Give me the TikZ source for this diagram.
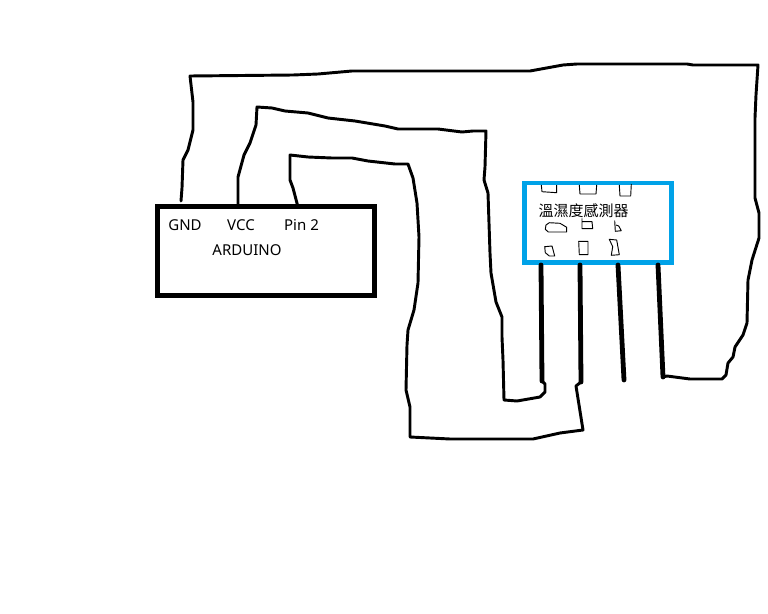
\documentclass[tikz,border=0pt]{standalone}
\usepackage{fontspec}
\setmainfont{Noto Sans}
\newfontfamily\cjkfont{Noto Sans CJK TC}
\definecolor{paintblue}{HTML}{00A2E8}
\tikzset{
  board/.style={draw=black,line width=3.6pt,fill=white,inner sep=0pt,minimum width=162.5pt,minimum height=66.4pt},
  sensorbox/.style={draw=paintblue,line width=3.5pt,fill=white,inner sep=0pt,minimum width=110.5pt,minimum height=59.5pt},
  label/.style={inner sep=0pt,font=\fontsize{11.25pt}{13pt}\selectfont,text=black},
  wire/.style={draw=black,line width=2.2pt,line join=round,line cap=round},
  pinline/.style={draw=black,line width=3.6pt,line cap=round},
  scribble/.style={draw=black,line width=0.7pt,line join=round}
}
\begin{document}
\begin{tikzpicture}[x=0.75pt,y=-0.75pt]
\useasboundingbox[fill=white] (0,0) rectangle (768,614);

\node[board] (arduino) at (266,251) {};
\node[sensorbox] (sensor) at (598,222.8) {};

\node[label] (gnd) at (185,225) {GND};
\node[label] (vcc) at (241,225) {VCC};
\node[label] (pintwo) at (301.5,225) {Pin 2};
\node[label] (board name) at (247,250) {ARDUINO};
\node[label,font=\fontsize{11.25pt}{13pt}\cjkfont] (sensor name) at (583.5,211) {溫濕度感測器};

\coordinate (gnd top) at (181,201);
\coordinate (vcc top) at (238,207);
\coordinate (pin top) at (298,207);
\coordinate (s1 top) at (541,265);
\coordinate (s2 top) at (580,265);
\coordinate (s3 top) at (618,265);
\coordinate (s4 top) at (658,265);
\coordinate (s1 end) at (542,381);
\coordinate (s2 end) at (581,382);
\coordinate (s3 end) at (624,380);
\coordinate (s4 end) at (663,377);

\draw[pinline] (s1 top) -- (s1 end);
\draw[pinline] (s2 top) -- (s2 end);
\draw[pinline] (s3 top) -- (s3 end);
\draw[pinline] (s4 top) -- (s4 end);

% GND wire
\draw[wire] (gnd top) -- (182,188) -- (183,160) -- (188,150) -- (193,130) -- (193,102) -- (190,76)
  -- (293,75) -- (318,74) -- (352,71) -- (530,71) -- (563,65) -- (577,64) -- (687,64) -- (693,65) -- (758,65)
  -- (756,95) -- (755,118) -- (755,198) -- (759,213) -- (759,238) -- (752,260) -- (748,280) -- (747,323)
  -- (743,335) -- (735,347) -- (733,357) -- (728,363) -- (726,375) -- (722,379) -- (690,379) -- (667,376) -- (s4 end);
% VCC wire
\draw[wire] (vcc top) -- (238,177) -- (244,155) -- (250,143) -- (256,125) -- (257,107)
  -- (272,108) -- (285,111) -- (308,113) -- (328,118) -- (355,121) -- (385,126) -- (398,129)
  -- (438,129) -- (462,132) -- (473,131) -- (486,131) -- (485,167) -- (484,180) -- (488,193)
  -- (490,253) -- (491,273) -- (496,302) -- (502,317) -- (502,337) -- (503,360) -- (504,400)
  -- (517,401) -- (540,397) -- (545,392) -- (545,384) -- (s1 end);
% Pin 2 wire
\draw[wire] (pin top) -- (293,188) -- (290,180) -- (290,155) -- (308,157) -- (332,158) -- (352,158)
  -- (368,161) -- (395,164) -- (408,164) -- (413,178) -- (417,203) -- (419,237) -- (418,283)
  -- (414,310) -- (408,330) -- (407,345) -- (406,390) -- (410,407) -- (410,437)
  -- (450,439) -- (533,439) -- (560,433) -- (583,430) -- (576,386) -- (s2 end);

% marks inside the sensor
\draw[scribble] (541.3,185) -- (542,191.7) -- (556.7,192.7) -- (556.7,185);
\draw[scribble] (579.3,185) -- (580,194) -- (596,194) -- (596.7,185);
\draw[scribble] (619.3,185) -- (620,196) -- (630.7,196) -- (631.3,184);
\draw[scribble] (546,225) -- (549.3,222.7) -- (560,223.3) -- (566.7,227.3) -- (566.7,232) -- (548.3,232) -- (545.3,229.3) -- cycle;
\draw[scribble] (582,218.3) -- (582,228.7) -- (592.7,228.7) -- (592,221.7) -- (582,221.7);
\draw[scribble] (614.7,220.7) -- (615.3,231.3) -- (621.3,230.7) -- (618.7,226) -- (616,225);
\draw[scribble] (544.7,246.7) -- (552,246) -- (554.7,256) -- (549.3,256) -- (545.3,252.7) -- cycle;
\draw[scribble] (578.7,241.3) -- (588,241.3) -- (588,254.7) -- (579.3,254.7) -- cycle;
\draw[scribble] (609.3,239.3) -- (616.7,240) -- (619.3,254.7) -- (611.3,255.3) -- (612.7,246.7) -- cycle;
\end{tikzpicture}
\end{document}
